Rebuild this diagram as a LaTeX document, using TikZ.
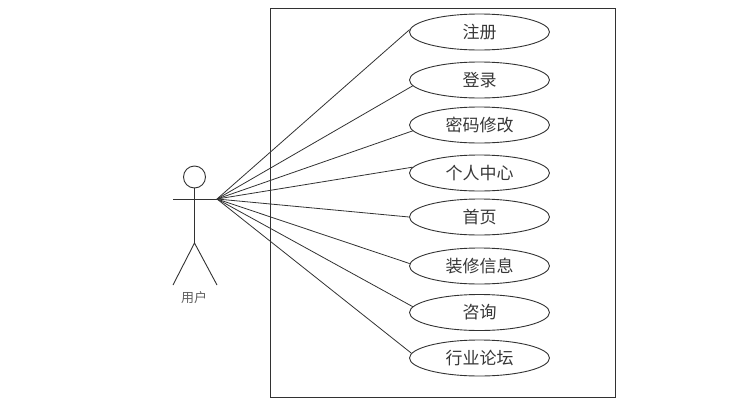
\documentclass[tikz,border=0pt]{standalone}
\usepackage{fontspec}
\setmainfont{Noto Sans CJK SC}
\usetikzlibrary{shapes.geometric}
\definecolor{ucline}{RGB}{50,50,50}
\definecolor{uctext}{RGB}{55,55,55}
\definecolor{ucgray}{RGB}{95,95,95}
\tikzset{
  usecase/.style={draw=ucline,ellipse,line width=0.9pt,minimum width=140pt,minimum height=36pt,
    inner sep=0pt,text=uctext,font=\fontsize{17}{20}\selectfont},
  figline/.style={draw=ucline,line width=0.9pt},
  assoc/.style={draw=ucline,line width=0.8pt}
}
\begin{document}
\begin{tikzpicture}[x=1pt,y=-1pt]
      \useasboundingbox (0,0) rectangle (756,413);
      \draw[ucline,line width=0.9pt] (270,8) rectangle (615,397);
      \node[usecase] (reg) at (479.5,32) {注册};
      \node[usecase] (login) at (479.5,80) {登录};
      \node[usecase] (passwd) at (479.5,125) {密码修改};
      \node[usecase] (center) at (479.5,173) {个人中心};
      \node[usecase] (home) at (479.5,217) {首页};
      \node[usecase] (decor) at (479.5,266) {装修信息};
      \node[usecase] (consult) at (479.5,312.5) {咨询};
      \node[usecase] (forum) at (479.5,358) {行业论坛};
      % stick figure
      \node[draw=ucline,circle,line width=0.9pt,minimum size=22pt,inner sep=0pt] (head) at (194.5,177) {};
      \coordinate (hip) at (194.5,243);
      \coordinate (handL) at (173,199);
      \coordinate (handR) at (217,199);
      \coordinate (footL) at (173,285);
      \coordinate (footR) at (217,285);
      \draw[figline] (head) -- (hip);
      \draw[figline] (handL) -- (handR);
      \draw[figline] (footL) -- (hip) -- (footR);
      \node[text=ucgray,font=\fontsize{13}{15}\selectfont] (user) at (194,298) {用户};
      % lines meet the ellipses near their left tips
      \foreach \uc/\ang in {reg/178,login/185,passwd/185,center/175,home/180,decor/178,consult/175,forum/176}
        \draw[assoc] (handR) -- (\uc.\ang);
    \end{tikzpicture}
\end{document}
